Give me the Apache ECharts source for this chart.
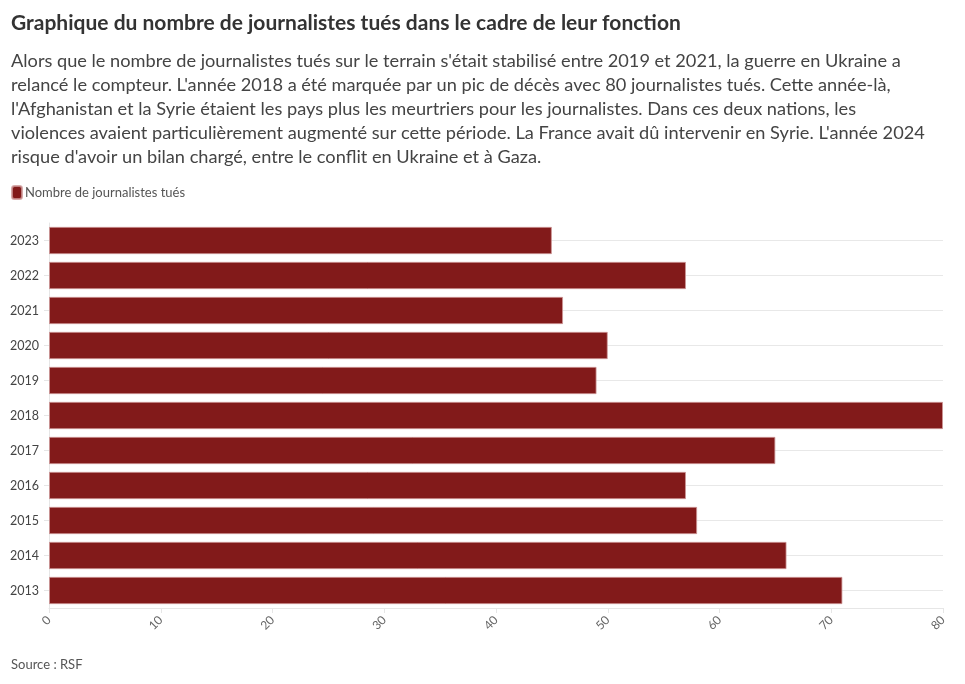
<!DOCTYPE html>
<html>
<head>
<meta charset="utf-8">
<script src="https://cdn.jsdelivr.net/npm/echarts@6/dist/echarts.min.js"></script>
<style>
  html, body { margin: 0; padding: 0; background: #fff; }
  #chart { width: 965px; height: 684px; }
</style>
</head>
<body>
<div id="chart"></div>
<script>
// années, du bas vers le haut
const years = ['2013', '2014', '2015', '2016', '2017', '2018', '2019', '2020', '2021', '2022', '2023']
const killed = [71, 66, 58, 57, 65, 80, 49, 50, 46, 57, 45]
const xTicks = [0, 10, 20, 30, 40, 50, 60, 70, 80]

const seriesName = 'Nombre de journalistes tués'
const titleText = 'Graphique du nombre de journalistes tués dans le cadre de leur fonction'
const subLines = [
  "Alors que le nombre de journalistes tués sur le terrain s'était stabilisé entre 2019 et 2021, la guerre en Ukraine a",
  "relancé le compteur. L'année 2018 a été marquée par un pic de décès avec 80 journalistes tués. Cette année-là,",
  "l'Afghanistan et la Syrie étaient les pays plus les meurtriers pour les journalistes. Dans ces deux nations, les",
  "violences avaient particulièrement augmenté sur cette période. La France avait dû intervenir en Syrie. L'année 2024",
  "risque d'avoir un bilan chargé, entre le conflit en Ukraine et à Gaza."
]

const font = 'Lato, "Noto Sans", sans-serif'
const myChart = echarts.init(document.getElementById('chart'))

myChart.setOption({
  animation: false,
  textStyle: { fontFamily: font },
  title: {
    text: titleText,
    subtext: subLines.join('\n'),
    left: 11,
    top: 13,
    padding: 0,
    itemGap: 15,
    textStyle: { fontSize: 21, fontWeight: 'bold', color: '#333', fontFamily: font },
    subtextStyle: { fontSize: 18.2, color: '#444', lineHeight: 24, fontFamily: font }
  },
  legend: {
    left: 6,
    top: 180,
    itemWidth: 10,
    itemHeight: 13,
    itemGap: 4,
    icon: 'roundRect',
    textStyle: { fontSize: 13, color: '#555', padding: [0, 0, 0, -2] },
    data: [seriesName]
  },
  grid: {
    left: 49,
    right: 22,
    top: 223,
    bottom: 76,
    containLabel: false
  },
  xAxis: {
    type: 'value',
    min: 0,
    max: 80,
    interval: 10,
    axisLine: { show: true, lineStyle: { color: '#e6e6e6' } },
    axisTick: { show: true, length: 5, lineStyle: { color: '#e6e6e6' } },
    axisLabel: {
      rotate: 45,
      color: '#666',
      fontSize: 12,
      margin: 10,
      formatter: v => xTicks.includes(v) ? String(v) : ''
    },
    splitLine: { show: false }
  },
  yAxis: {
    type: 'category',
    data: years,
    axisLine: { show: true, lineStyle: { color: '#e6e6e6' } },
    axisTick: { show: true, alignWithLabel: true, length: 5, lineStyle: { color: '#e6e6e6' } },
    axisLabel: { color: '#444', fontSize: 12.5, margin: 10 },
    splitLine: { show: true, alignWithLabel: true, lineStyle: { color: '#e8e8e8', width: 1 } }
  },
  series: [
    {
      name: seriesName,
      type: 'bar',
      data: killed,
      barCategoryGap: '22%',
      itemStyle: {
        color: '#821a1a',
        borderColor: 'rgba(205,150,150,0.8)',
        borderWidth: 1
      }
    }
  ],
  graphic: [
    {
      type: 'text',
      left: 11,
      top: 658,
      style: { text: 'Source : RSF', fontSize: 13, fill: '#555', fontFamily: font }
    }
  ]
})
</script>
</body>
</html>
